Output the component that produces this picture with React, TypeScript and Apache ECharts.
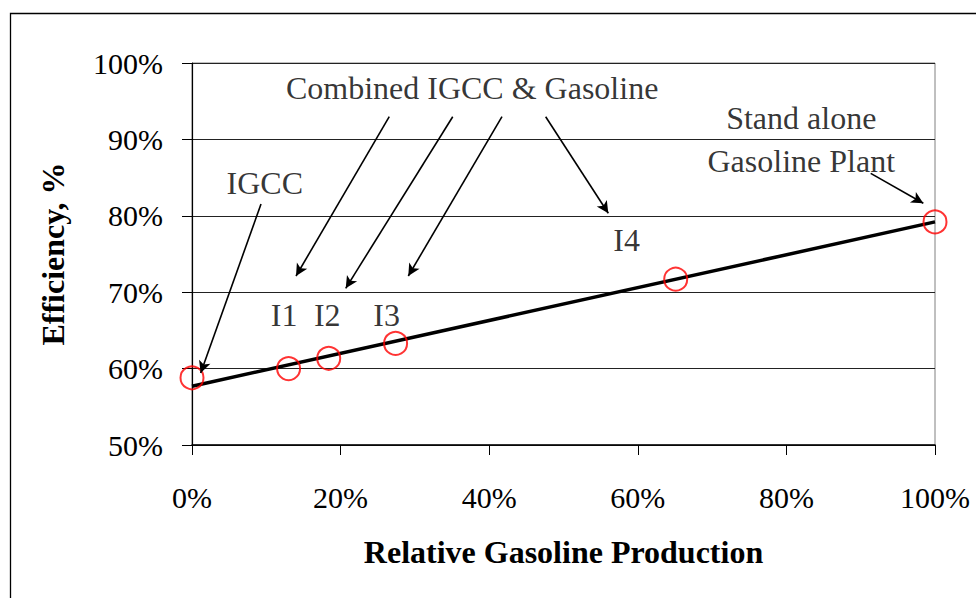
import React, { useEffect, useRef } from "react";
import * as echarts from "echarts";

// Relative gasoline production (%) and efficiency (%)
const gasolineShare = [0, 13, 18.4, 27.4, 65.1, 100];
const efficiency = [58.8, 60.0, 61.35, 63.3, 71.7, 79.2];

// Linear trend line end points [x%, y%]
const trendX = [0, 100];
const trendY = [57.7, 79.2];

const xTicks = [0, 20, 40, 60, 80, 100];
const yTicks = [50, 60, 70, 80, 90, 100];

// Annotation labels [text, x%, y%]
const labelTexts = ["Combined IGCC & Gasoline", "IGCC", "I1", "I2", "I3", "I4", "Stand alone", "Gasoline Plant"];
const labelX = [37.7, 9.8, 12.4, 18.2, 26.2, 58.5, 82.0, 82.0];
const labelY = [96.7, 84.3, 67.0, 67.0, 67.0, 76.8, 92.8, 87.2];

// Annotation arrows: start [x%, y%] -> end [x%, y%]
const arrowStartX = [9.29, 26.55, 35.09, 41.72, 47.6, 91.35];
const arrowStartY = [81.54, 92.97, 92.97, 92.97, 92.97, 85.56];
const arrowEndX = [1.17, 14.0, 20.69, 29.11, 56.03, 98.43];
const arrowEndY = [59.42, 72.12, 70.51, 72.12, 80.33, 81.64];

const FONT = "'Liberation Serif', 'Times New Roman', serif";

export default function App() {
  const ref = useRef<HTMLDivElement>(null);

  useEffect(() => {
    if (!ref.current) return;
    const chart = echarts.init(ref.current, null, { renderer: "svg" });

    const arrows = arrowStartX.map((sx, i) => [
      { coord: [sx, arrowStartY[i]] },
      { coord: [arrowEndX[i], arrowEndY[i]] },
    ]);

    chart.setOption({
      animation: false,
      backgroundColor: "#ffffff",
      graphic: [
        {
          type: "rect",
          shape: { x: 10.5, y: 13.5, width: 1000, height: 1000 },
          style: { fill: "none", stroke: "#000", lineWidth: 1.3 },
          silent: true,
        },
      ],
      grid: {
        left: 192,
        top: 63,
        width: 743,
        height: 382,
        show: true,
        borderColor: "#808080",
        borderWidth: 1,
        backgroundColor: "transparent",
      },
      xAxis: {
        type: "value",
        min: xTicks[0],
        max: xTicks[xTicks.length - 1],
        interval: 20,
        name: "Relative Gasoline Production",
        nameLocation: "middle",
        nameGap: 91,
        nameTextStyle: { fontFamily: FONT, fontSize: 32, fontWeight: "bold", color: "#000" },
        axisLine: { show: true, onZero: false, lineStyle: { color: "#000", width: 1.5 } },
        axisTick: { show: true, length: 10, lineStyle: { color: "#000", width: 1 } },
        axisLabel: {
          formatter: (v: number) => `${v}%`,
          fontFamily: FONT,
          fontSize: 30,
          color: "#000",
          margin: 37,
        },
        splitLine: { show: false },
      },
      yAxis: {
        type: "value",
        min: yTicks[0],
        max: yTicks[yTicks.length - 1],
        interval: 10,
        name: "Efficiency, %",
        nameLocation: "middle",
        nameGap: 123,
        nameTextStyle: { fontFamily: FONT, fontSize: 32, fontWeight: "bold", color: "#000" },
        axisLine: { show: true, onZero: false, lineStyle: { color: "#000", width: 1.2 } },
        axisTick: { show: true, length: 10, lineStyle: { color: "#000", width: 1 } },
        axisLabel: {
          formatter: (v: number) => `${v}%`,
          fontFamily: FONT,
          fontSize: 30,
          color: "#000",
          margin: 29,
        },
        splitLine: { show: true, lineStyle: { color: "#222", width: 1 } },
      },
      series: [
        {
          type: "line",
          name: "Trend",
          data: trendX.map((x, i) => [x, trendY[i]]),
          showSymbol: false,
          symbol: "none",
          lineStyle: { color: "#000", width: 3.5 },
          z: 3,
          silent: true,
        },
        {
          type: "scatter",
          name: "Plants",
          data: gasolineShare.map((x, i) => [x, efficiency[i]]),
          symbol: "circle",
          symbolSize: 23,
          itemStyle: { color: "transparent", borderColor: "#ff0000", borderWidth: 2 },
          z: 4,
          clip: false,
          silent: true,
        },
        {
          type: "scatter",
          name: "Annotations",
          data: labelTexts.map((t, i) => ({ value: [labelX[i], labelY[i]], name: t })),
          symbolSize: 0,
          silent: true,
          z: 5,
          label: {
            show: true,
            position: "inside",
            formatter: (p: any) => p.name,
            fontFamily: FONT,
            fontSize: 32,
            color: "#000",
            textBorderWidth: 0,
          },
          markLine: {
            silent: true,
            symbol: ["none", "arrow"],
            symbolSize: [9, 12],
            label: { show: false },
            lineStyle: { color: "#000", width: 1.6, type: "solid" },
            data: arrows,
          },
        },
      ],
    });

    return () => chart.dispose();
  }, []);

  return (
    <div
      ref={ref}
      style={{ position: "absolute", left: 0, top: 0, width: 976, height: 598 }}
    />
  );
}
